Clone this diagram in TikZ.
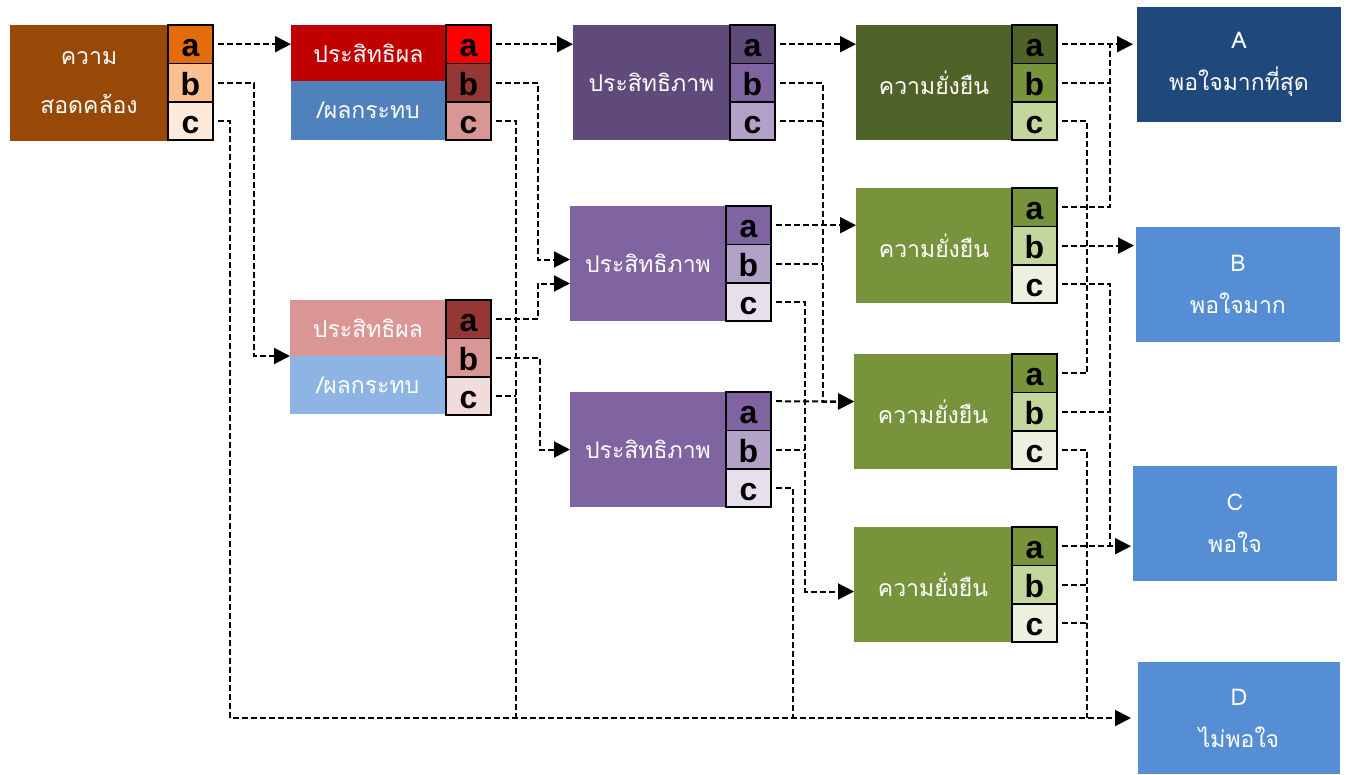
\documentclass[tikz,border=0pt]{standalone}
\usepackage{fontspec}
\usepackage{tikz}
\usetikzlibrary{positioning,arrows.meta}
\newfontfamily\thaifont[Script=Thai]{Loma}
\newfontfamily\cellfont{Liberation Sans}
\definecolor{kMain}{HTML}{984807}
\definecolor{kA}{HTML}{E46C0A}
\definecolor{kB}{HTML}{FAC090}
\definecolor{kC}{HTML}{FDEADA}
\definecolor{redTop}{HTML}{C00000}
\definecolor{blueLow}{HTML}{4F81BD}
\definecolor{pinkTop}{HTML}{D99694}
\definecolor{skyLow}{HTML}{8EB4E3}
\definecolor{rRed}{HTML}{FF0000}
\definecolor{rDark}{HTML}{953735}
\definecolor{rPink}{HTML}{D99694}
\definecolor{rPale}{HTML}{F2DCDB}
\definecolor{vDark}{HTML}{604A7B}
\definecolor{vMid}{HTML}{8064A2}
\definecolor{vLight}{HTML}{B3A2C7}
\definecolor{vPale}{HTML}{E6E0EC}
\definecolor{gDark}{HTML}{4F6228}
\definecolor{gMid}{HTML}{77933C}
\definecolor{gLight}{HTML}{C3D69B}
\definecolor{gPale}{HTML}{EBF1DE}
\definecolor{navyRes}{HTML}{1F497D}
\definecolor{blueRes}{HTML}{558ED5}

\begin{document}
\begin{tikzpicture}[x=1pt,y=-1pt,
  box/.style={anchor=north west,inner sep=0pt,outer sep=0pt,text=white,align=center,
    font=\thaifont\fontsize{23}{30}\selectfont},
  cell/.style={draw=black,line width=1.6pt,minimum width=45pt,minimum height=38.4pt,
    inner sep=0pt,outer sep=0pt,text height=25pt,text depth=0pt,
    font=\cellfont\bfseries\fontsize{32}{32}\selectfont},
  link/.style={line width=2pt,dash pattern=on 6pt off 3pt,shorten <=5pt},
  go/.style={link,-{Stealth[inset=0pt,length=16pt,width=16pt]}}]
  \useasboundingbox (0,0) rectangle (1346,774);
 % main boxes
  \node[box,fill=kMain,minimum width=158pt,minimum height=116pt] (k) at (10,25) {ความ\\[19pt]สอดคล้อง};
  \node[box,fill=redTop,minimum width=155pt,minimum height=56pt] (p1) at (291,25) {ประสิทธิผล};
  \node[box,fill=blueLow,minimum width=155pt,minimum height=59pt] (p1low) at (291,81) {/ผลกระทบ};
  \node[box,fill=pinkTop,minimum width=156pt,minimum height=56pt] (p2) at (290,300) {ประสิทธิผล};
  \node[box,fill=skyLow,minimum width=156pt,minimum height=58pt] (p2low) at (290,356) {/ผลกระทบ};
  \node[box,fill=vDark,minimum width=157pt,minimum height=115pt] (e1) at (573,25) {ประสิทธิภาพ};
  \node[box,fill=vMid,minimum width=156pt,minimum height=115pt] (e2) at (570,206) {ประสิทธิภาพ};
  \node[box,fill=vMid,minimum width=156pt,minimum height=115pt] (e3) at (570,392) {ประสิทธิภาพ};
  \node[box,fill=gDark,minimum width=156pt,minimum height=115pt] (s1) at (856,25) {ความยั่งยืน};
  \node[box,fill=gMid,minimum width=156pt,minimum height=115pt] (s2) at (856,188) {ความยั่งยืน};
  \node[box,fill=gMid,minimum width=158pt,minimum height=115pt] (s3) at (854,354) {ความยั่งยืน};
  \node[box,fill=gMid,minimum width=158pt,minimum height=115pt] (s4) at (854,527) {ความยั่งยืน};
  \node[box,fill=navyRes,minimum width=204pt,minimum height=115pt] (ra) at (1137,7) {A\\[12pt]พอใจมากที่สุด};
  \node[box,fill=blueRes,minimum width=204pt,minimum height=115pt] (rb) at (1136,227) {B\\[12pt]พอใจมาก};
  \node[box,fill=blueRes,minimum width=204pt,minimum height=115pt] (rc) at (1133,466) {C\\[12pt]พอใจ};
  \node[box,fill=blueRes,minimum width=202pt,minimum height=112pt] (rd) at (1138,662) {D\\[12pt]ไม่พอใจ};
 % a b c cells
  \foreach \n/\x/\y/\ca/\cb/\cc in {k/168/25/kA/kB/kC, p1/446/25/rRed/rDark/rPink,
      p2/446/300/rDark/rPink/rPale, e1/730/25/vDark/vMid/vLight,
      e2/726/206/vMid/vLight/vPale, e3/726/392/vMid/vLight/vPale,
      s1/1012/25/gDark/gMid/gLight, s2/1012/188/gMid/gLight/gPale,
      s3/1012/354/gMid/gLight/gPale, s4/1012/527/gMid/gLight/gPale}{
    \node[cell,fill=\ca,anchor=north west] (\n-a) at (\x,\y) {a};
    \node[cell,fill=\cb,below=0pt of \n-a] (\n-b) {b};
    \node[cell,fill=\cc,below=0pt of \n-b] (\n-c) {c};
  }
 % first column
  \draw[go] (k-a.east) -- (k-a.east -| p1.west);
  \draw[go] (k-b.east) -- ++(41,0) |- (p2.south west);
  \draw[go,shorten >=7pt] (k-c.east) -- ++(17,0) |- (rd.west);
 % second column
  \draw[go] (p1-a.east) -- (p1-a.east -| e1.west);
  \draw[go] (p1-b.east) -- ++(47,0) |- ([yshift=4pt]e2.west);
  \draw[link] (p1-c.east) -- ++(25,0) coordinate (p1c-x) -- (p1c-x |- rd.west);
  \draw[go] (p2-a.east) -- ++(47,0) |- ([yshift=-20pt]e2.west);
  \draw[go] (p2-b.east) -- ++(49,0) |- (e3.west);
  \draw[link] (p2-c.east) -- ++(25,0);
 % third column
  \draw[go] (e1-a.east) -- (e1-a.east -| s1.west);
  \draw[go] (e1-b.east) -- ++(48,0) |- ([yshift=10pt]s3.west);
  \draw[link] (e1-c.east) -- ++(48,0);
  \draw[go] (e2-a.east) -- (e2-a.east -| s2.west);
  \draw[link] (e2-b.east) -- ++(52,0);
  \draw[go] (e2-c.east) -- ++(34,0) |- ([yshift=-7pt]s4.west);
  \draw[go] ([yshift=10pt]e3-a.east) -- ([yshift=10pt]s3.west);
  \draw[link] (e3-b.east) -- ++(34,0);
  \draw[link] (e3-c.east) -- ++(22,0) coordinate (e3c-x) -- (e3c-x |- rd.west);
 % results
  \draw[go,shorten >=4pt] (s1-a.east) -- (s1-a.east -| ra.west);
  \draw[link] (s1-b.east) -- ++(53,0);
  \draw[link] (s2-a.east) -- ++(53,0) coordinate (s2a-x) -- (s2a-x |- s1-a.east);
  \draw[link] (s1-c.east) -- ++(30,0) coordinate (s1c-x) -- (s1c-x |- s3-a.east);
  \draw[link] (s3-a.east) -- ++(30,0);
  \draw[go,shorten >=2pt] (s2-b.east) -- (s2-b.east -| rb.west);
  \draw[link] (s2-c.east) -- ++(53,0) coordinate (s2c-x) -- (s2c-x |- s4-a.east);
  \draw[link] (s3-b.east) -- ++(53,0);
  \draw[link] (s3-c.east) -- ++(30,0) coordinate (s3c-x) -- (s3c-x |- rd.west);
  \draw[go,shorten >=2pt] (s4-a.east) -- (s4-a.east -| rc.west);
  \draw[link] (s4-b.east) -- ++(30,0);
  \draw[link] (s4-c.east) -- ++(30,0);
\end{tikzpicture}
\end{document}
